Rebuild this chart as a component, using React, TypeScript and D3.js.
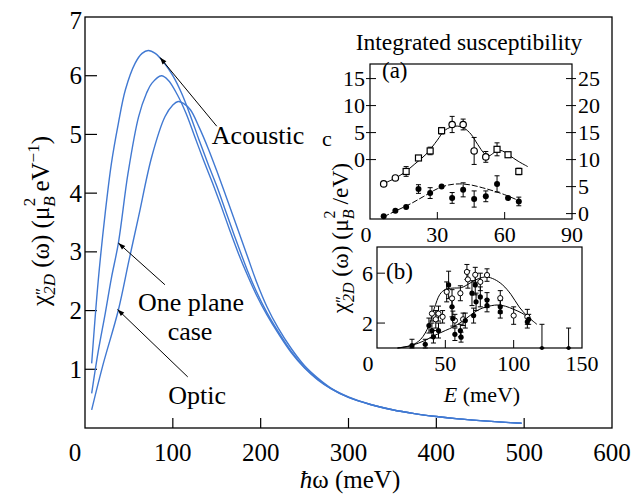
import React from "react";
import * as d3 from "d3";

// main panel: chi''_2D(omega) vs hbar*omega
const mainXTicks = [0, 100, 200, 300, 400, 500, 600];
const mainYTicks = [1, 2, 3, 4, 5, 6, 7];

const acoustic: [number, number][] = [
  [7.6, 1.1], [15, 2.5], [23, 3.66], [30, 4.5], [38, 5.19], [46, 5.76], [57, 6.21], [65, 6.38],
  [72, 6.43], [80, 6.38], [90, 6.22], [100, 6.0], [110, 5.7], [120, 5.32], [130, 4.9],
  [140, 4.5], [150, 4.12], [160, 3.7], [170, 3.28], [185, 2.68], [195, 2.33], [207, 1.97],
  [220, 1.64], [235, 1.3], [250, 1.03], [265, 0.83], [280, 0.67], [300, 0.52], [325, 0.4],
  [350, 0.31], [375, 0.245], [400, 0.195], [425, 0.155], [450, 0.125], [475, 0.1], [497, 0.08],
];
const onePlane: [number, number][] = [
  [7.6, 0.59], [15, 1.3], [23, 1.95], [30, 2.55], [38, 3.15], [49, 4.34], [61, 5.3], [70, 5.7],
  [76, 5.87], [87, 6.0], [95, 5.92], [105, 5.68], [115, 5.36], [125, 4.96], [135, 4.56],
  [145, 4.18], [155, 3.78], [165, 3.36], [175, 2.96], [185, 2.6], [195, 2.27], [207, 1.93],
  [220, 1.61], [235, 1.28], [250, 1.02], [265, 0.82], [280, 0.67], [300, 0.52], [325, 0.4],
  [350, 0.31], [375, 0.245], [400, 0.195], [425, 0.155], [450, 0.125], [475, 0.1], [497, 0.08],
];
const optic: [number, number][] = [
  [7.6, 0.31], [20, 1.05], [38, 2.01], [50, 2.85], [61, 3.6], [76, 4.62], [91, 5.3], [100, 5.5],
  [106, 5.56], [112, 5.53], [120, 5.42], [130, 5.12], [140, 4.77], [150, 4.38], [160, 3.97],
  [170, 3.55], [185, 2.92], [195, 2.5], [207, 2.07], [220, 1.7], [235, 1.35], [250, 1.06],
  [265, 0.85], [280, 0.68], [300, 0.53], [325, 0.4], [350, 0.31], [375, 0.245], [400, 0.195],
  [425, 0.155], [450, 0.125], [475, 0.1], [497, 0.08],
];

// inset (a): integrated susceptibility vs temperature
const aXTicks = [0, 30, 60, 90];
const aLeftTicks = [0, 5, 10, 15];
const aRightTicks = [0, 5, 10, 15, 20, 25];
// upper set, left axis: [T, value, error]
const aUpper: [number, number, number][] = [
  [6.1, -4.5, 0], [11.3, -3.4, 0], [16.1, -2.2, 0.9], [21.6, 0.3, 0], [26.8, 1.6, 0.7],
  [31.9, 5.35, 0.6], [36.6, 6.5, 1.5], [41.5, 6.5, 1.0], [46.4, 1.6, 2.5], [51.6, 0.5, 1.0],
  [56.6, 1.9, 1.2], [61.5, 0.9, 0], [66.3, -2.2, 0.6],
];
const aUpperShape = ["c", "c", "s", "s", "s", "s", "c", "c", "c", "c", "s", "s", "s"];
const aUpperFit: [number, number][] = [
  [5, -4.6], [10, -3.7], [15, -2.5], [20, -0.8], [25, 1.0], [30, 3.6], [33, 5.3], [36, 6.0],
  [39, 6.2], [42, 5.8], [45, 4.7], [48, 2.8], [51, 1.1], [53, 0.7], [55, 1.2], [57, 1.7],
  [59, 1.6], [62, 0.8], [66, -0.3], [70.3, -1.3],
];
// lower set, right axis
const aLower: [number, number, number][] = [
  [6.1, -0.5, 0], [11.3, 0.55, 0], [16.1, 1.2, 0], [21.6, 4.55, 0.8], [26.8, 3.8, 1.0],
  [31.9, 5.0, 0], [36.6, 2.9, 1.0], [41.5, 4.4, 1.3], [46.4, 2.7, 1.5], [51.6, 3.2, 1.0],
  [56.6, 5.5, 1.5], [61.5, 2.9, 0], [66.3, 2.25, 0.8],
];
const aLowerFit: [number, number][] = [
  [6, -0.6], [12, 0.6], [18, 1.8], [24, 3.2], [30, 4.6], [35, 5.3], [40, 5.5], [45, 5.3],
  [50, 4.8], [55, 4.2], [60, 3.5], [66.3, 2.4],
];

// inset (b): chi'' vs E
const bXTicks = [0, 50, 100, 150];
const bYTicks = [2, 6];
const bOpen: [number, number, number][] = [
  [40.2, 2.76, 0.6], [43, 2.3, 0.7], [45, 2.76, 0.6], [48, 2.5, 0.5], [51, 4.5, 0.8],
  [54.9, 3.98, 0.7], [57, 2.2, 0.5], [61, 4.39, 0.6], [63, 2.3, 0.5], [65.8, 6.1, 0.6],
  [66.5, 5.5, 0.7], [71.9, 5.87, 0.6], [75.6, 5.3, 0.7], [80.5, 5.85, 0.5], [90.2, 4.0, 0.6],
  [100, 2.6, 0.7], [110, 2.5, 0.6],
];
const bFilled: [number, number, number][] = [
  [25.6, 0.2, 0.5], [35.3, 0.3, 0.4], [38, 1.8, 0.6], [40.2, 1.4, 0.6], [41.3, 0.9, 0.5],
  [45, 1.4, 0.6], [52.4, 5.06, 1.1], [54.9, 3.3, 0.8], [55.5, 2.36, 0.6], [57, 1.1, 0.5],
  [61, 1.4, 0.5], [61.5, 0.87, 0.4], [64.6, 2.2, 0.6], [69.5, 4.4, 1.0], [70.7, 2.6, 0.6],
  [71.9, 5.06, 0.8], [72.5, 3.7, 0.7], [75.6, 4.1, 0.8], [80.5, 3.84, 0.6], [80.5, 3.4, 0.5],
  [90.2, 2.9, 0.5], [90.2, 3.3, 0.5], [110, 2.1, 0.5], [111, 2.3, 0.4],
];
const bLimits: [number, number][] = [[120.7, 1.9], [140.2, 1.6]];
const bUpperFit: [number, number][] = [
  [15, 0], [25, 0.2], [32, 0.7], [38, 1.8], [42, 3.2], [46, 4.3], [50, 4.7], [55, 4.8],
  [62, 4.85], [68, 5.2], [74, 5.55], [80, 5.7], [86, 5.5], [92, 5.05], [98, 4.3], [104, 3.3],
  [110, 2.55], [117, 1.9],
];
const bLowerFit: [number, number][] = [
  [15, 0], [25, 0.2], [35, 0.6], [42, 1.0], [50, 1.4], [56, 1.7], [62, 2.1], [68, 2.6],
  [74, 3.05], [80, 3.3], [88, 3.45], [94, 3.35], [100, 3.1], [106, 2.8], [112, 2.35],
];

const FONT = "Liberation Serif, Times New Roman, serif";
const BLUE = "#4179d2";

export default function App() {
  const x = d3.scaleLinear().domain([0, 600]).range([85, 612]);
  const y = d3.scaleLinear().domain([0, 7]).range([428, 17]);

  const xa = d3.scaleLinear().domain([0, 90]).range([370, 572]);
  const yaR = d3.scaleLinear().domain([-1, 27.7]).range([219, 64]);
  const yaL = d3.scaleLinear().domain([-11, 17.7]).range([219, 64]);

  const xb = d3.scaleLinear().domain([0, 150]).range([377, 582]);
  const yb = d3.scaleLinear().domain([0, 8.1]).range([348, 247]);

  const mainLine = d3.line<[number, number]>()
    .x(d => x(d[0])).y(d => y(d[1]))
    .curve(d3.curveCatmullRom.alpha(0.5));
  const aUpLine = d3.line<[number, number]>()
    .x(d => xa(d[0])).y(d => yaL(d[1])).curve(d3.curveCatmullRom.alpha(0.5));
  const aLowLine = d3.line<[number, number]>()
    .x(d => xa(d[0])).y(d => yaR(d[1])).curve(d3.curveCatmullRom.alpha(0.5));
  const bLine = d3.line<[number, number]>()
    .x(d => xb(d[0])).y(d => yb(d[1])).curve(d3.curveCatmullRom.alpha(0.5));

  const errBar = (cx: number, y1: number, y2: number, key: string) => (
    <g key={key} stroke="#000" strokeWidth={1}>
      <line x1={cx} x2={cx} y1={y1} y2={y2} />
      <line x1={cx - 2.5} x2={cx + 2.5} y1={y1} y2={y1} />
      <line x1={cx - 2.5} x2={cx + 2.5} y1={y2} y2={y2} />
    </g>
  );

  const arrows = [
    { from: [150, 5.14], to: [85.4, 6.31] },
    { from: [91, 2.44], to: [38, 3.15] },
    { from: [117, 0.87], to: [37, 2.02] },
  ];

  return (
    <svg width={634} height={495} style={{ position: "absolute", left: 0, top: 0, background: "#fff", fontFamily: FONT }}
      fontFamily={FONT}>
      <defs>
        <marker id="ah" viewBox="0 0 10 10" refX={10} refY={5} markerWidth={9} markerHeight={7}
          orient="auto" markerUnits="userSpaceOnUse">
          <path d="M0,1.5 L10,5 L0,8.5 z" fill="#000" />
        </marker>
      </defs>

      {/* main frame */}
      <rect x={x(0)} y={y(7)} width={x(600) - x(0)} height={y(0) - y(7)} fill="none" stroke="#000" strokeWidth={1.3} />
      {mainXTicks.filter(t => t > 0 && t < 600).map(t => (
        <line key={"xt" + t} x1={x(t)} x2={x(t)} y1={y(0)} y2={y(0) - 10} stroke="#000" strokeWidth={1.2} />
      ))}
      {mainYTicks.filter(t => t < 7).map(t => (
        <line key={"yt" + t} x1={x(0)} x2={x(0) + 12} y1={y(t)} y2={y(t)} stroke="#000" strokeWidth={1.2} />
      ))}
      {mainXTicks.map(t => (
        <text key={"xl" + t} x={x(t) - (t === 0 ? 10 : 0)} y={452} fontSize={25} textAnchor="middle"
          dominantBaseline="central">{t}</text>
      ))}
      {mainYTicks.map(t => (
        <text key={"yl" + t} x={82} y={y(t) + (t === 7 ? 3 : 0)} fontSize={25} textAnchor="end" dominantBaseline="central">{t}</text>
      ))}
      <text x={350} y={488} fontSize={25} textAnchor="middle">
        <tspan fontStyle="italic">ħ</tspan>ω (meV)
      </text>
      <text transform="translate(49,221) rotate(-90)" fontSize={25} textAnchor="middle">
        χ<tspan fontSize={17} dy={-2}>″</tspan>
        <tspan fontSize={17} fontStyle="italic" dx={-7} dy={8}>2D</tspan>
        <tspan dy={-6}> (ω)  (μ</tspan>
        <tspan fontSize={17} fontStyle="italic" dy={6}>B</tspan>
        <tspan fontSize={17} dx={-10} dy={-20}>2</tspan>
        <tspan dy={14}> eV</tspan>
        <tspan fontSize={17} dy={-10}>−1</tspan>
        <tspan dy={10}>)</tspan>
      </text>

      {/* curves */}
      {[acoustic, onePlane, optic].map((c, i) => (
        <path key={"c" + i} d={mainLine(c) || ""} fill="none" stroke={BLUE} strokeWidth={1.4} />
      ))}

      {/* annotations */}
      {arrows.map((a, i) => (
        <line key={"ar" + i} x1={x(a.from[0])} y1={y(a.from[1])} x2={x(a.to[0])} y2={y(a.to[1])}
          stroke="#000" strokeWidth={1} markerEnd="url(#ah)" />
      ))}
      <text x={x(197)} y={y(4.99)} fontSize={26} textAnchor="middle" dominantBaseline="central">Acoustic</text>
      <text x={x(120.7)} y={y(2.13)} fontSize={26} textAnchor="middle" dominantBaseline="central">One plane</text>
      <text x={x(119.6)} y={y(1.64)} fontSize={26} textAnchor="middle" dominantBaseline="central">case</text>
      <text x={x(127.6)} y={y(0.56)} fontSize={26} textAnchor="middle" dominantBaseline="central">Optic</text>

      {/* inset (a) */}
      <text x={469} y={42} fontSize={23.5} textAnchor="middle" dominantBaseline="central">Integrated susceptibility</text>
      <rect x={xa(0)} y={yaR(27.7)} width={xa(90) - xa(0)} height={yaR(-1) - yaR(27.7)} fill="#fff" stroke="#000" strokeWidth={1.2} />
      {aLeftTicks.map(t => (
        <g key={"al" + t}>
          <line x1={xa(0) - 4} x2={xa(0) + 6} y1={yaL(t)} y2={yaL(t)} stroke="#000" />
          <text x={365} y={yaL(t)} fontSize={22} textAnchor="end" dominantBaseline="central">{t}</text>
        </g>
      ))}
      {aRightTicks.map(t => (
        <g key={"ar" + t}>
          <line x1={xa(90) - 6} x2={xa(90) + 4} y1={yaR(t)} y2={yaR(t)} stroke="#000" />
          <text x={578} y={yaR(t)} fontSize={22} textAnchor="start" dominantBaseline="central">{t}</text>
        </g>
      ))}
      {aXTicks.map(t => (
        <g key={"ax" + t}>
          {t > 0 && t < 90 && <line x1={xa(t)} x2={xa(t)} y1={yaR(-1)} y2={yaR(-1) - 7} stroke="#000" />}
          <text x={xa(t) - (t === 0 ? 4 : 0)} y={234} fontSize={22} textAnchor="middle" dominantBaseline="central">{t}</text>
        </g>
      ))}
      <text x={382} y={70} fontSize={23} dominantBaseline="central">(a)</text>
      <path d={aUpLine(aUpperFit) || ""} fill="none" stroke="#000" strokeWidth={1} />
      <path d={aLowLine(aLowerFit) || ""} fill="none" stroke="#000" strokeWidth={1} strokeDasharray="6 2" />
      {aUpper.map((d, i) => d[2] > 0 && errBar(xa(d[0]), yaL(d[1] + d[2]), yaL(d[1] - d[2]), "aue" + i))}
      {aLower.map((d, i) => d[2] > 0 && errBar(xa(d[0]), yaR(d[1] + d[2]), yaR(d[1] - d[2]), "ale" + i))}
      {aUpper.map((d, i) => aUpperShape[i] === "s"
        ? <rect key={"au" + i} x={xa(d[0]) - 3} y={yaL(d[1]) - 3} width={6} height={6} fill="#fff" stroke="#000" strokeWidth={1.2} />
        : <circle key={"au" + i} cx={xa(d[0])} cy={yaL(d[1])} r={3.2} fill="#fff" stroke="#000" strokeWidth={1.2} />)}
      {aLower.map((d, i) => (
        <circle key={"alo" + i} cx={xa(d[0])} cy={yaR(d[1])} r={3} fill="#000" />
      ))}

      {/* shared inset y label */}
      <text x={327} y={138} fontSize={22} textAnchor="middle" dominantBaseline="central">c</text>
      <text transform="translate(348,238) rotate(-90)" fontSize={23.5} textAnchor="middle">
        χ<tspan fontSize={16} dy={-1}>″</tspan>
        <tspan fontSize={16} fontStyle="italic" dx={-6} dy={7}>2D</tspan>
        <tspan dy={-6}> (ω)   (μ</tspan>
        <tspan fontSize={16} fontStyle="italic" dy={6}>B</tspan>
        <tspan fontSize={16} dx={-9} dy={-19}>2</tspan>
        <tspan dy={13}> /eV)</tspan>
      </text>

      {/* inset (b) */}
      <rect x={xb(0)} y={yb(8.1)} width={xb(150) - xb(0)} height={yb(0) - yb(8.1)} fill="#fff" stroke="#000" strokeWidth={1.2} />
      {bYTicks.map(t => (
        <g key={"by" + t}>
          <line x1={xb(0)} x2={xb(0) + 8} y1={yb(t)} y2={yb(t)} stroke="#000" />
          <text x={373} y={yb(t)} fontSize={22} textAnchor="end" dominantBaseline="central">{t}</text>
        </g>
      ))}
      {bXTicks.map(t => (
        <g key={"bx" + t}>
          {t > 0 && t < 150 && <line x1={xb(t)} x2={xb(t)} y1={yb(0)} y2={yb(0) - 8} stroke="#000" />}
          <text x={xb(t) - (t === 0 ? 9 : 0)} y={363} fontSize={22} textAnchor="middle" dominantBaseline="central">{t}</text>
        </g>
      ))}
      <text x={386} y={271} fontSize={23} dominantBaseline="central">(b)</text>
      <text x={482} y={394} fontSize={22} textAnchor="middle" dominantBaseline="central">
        <tspan fontStyle="italic">E</tspan>  (meV)
      </text>
      <path d={bLine(bUpperFit) || ""} fill="none" stroke="#000" strokeWidth={1} />
      <path d={bLine(bLowerFit) || ""} fill="none" stroke="#000" strokeWidth={1} />
      {bOpen.map((d, i) => errBar(xb(d[0]), yb(d[1] + d[2]), yb(d[1] - d[2]), "boe" + i))}
      {bFilled.map((d, i) => errBar(xb(d[0]), yb(d[1] + d[2]), yb(Math.max(0, d[1] - d[2])), "bfe" + i))}
      {bLimits.map((d, i) => (
        <g key={"bl" + i}>
          {errBar(xb(d[0]), yb(d[1]), yb(0), "ble" + i)}
          <circle cx={xb(d[0])} cy={yb(0)} r={2} fill="#000" />
        </g>
      ))}
      {bOpen.map((d, i) => (
        <circle key={"bo" + i} cx={xb(d[0])} cy={yb(d[1])} r={2.6} fill="#fff" stroke="#000" strokeWidth={1} />
      ))}
      {bFilled.map((d, i) => (
        <circle key={"bf" + i} cx={xb(d[0])} cy={yb(d[1])} r={2.6} fill="#000" />
      ))}
    </svg>
  );
}
